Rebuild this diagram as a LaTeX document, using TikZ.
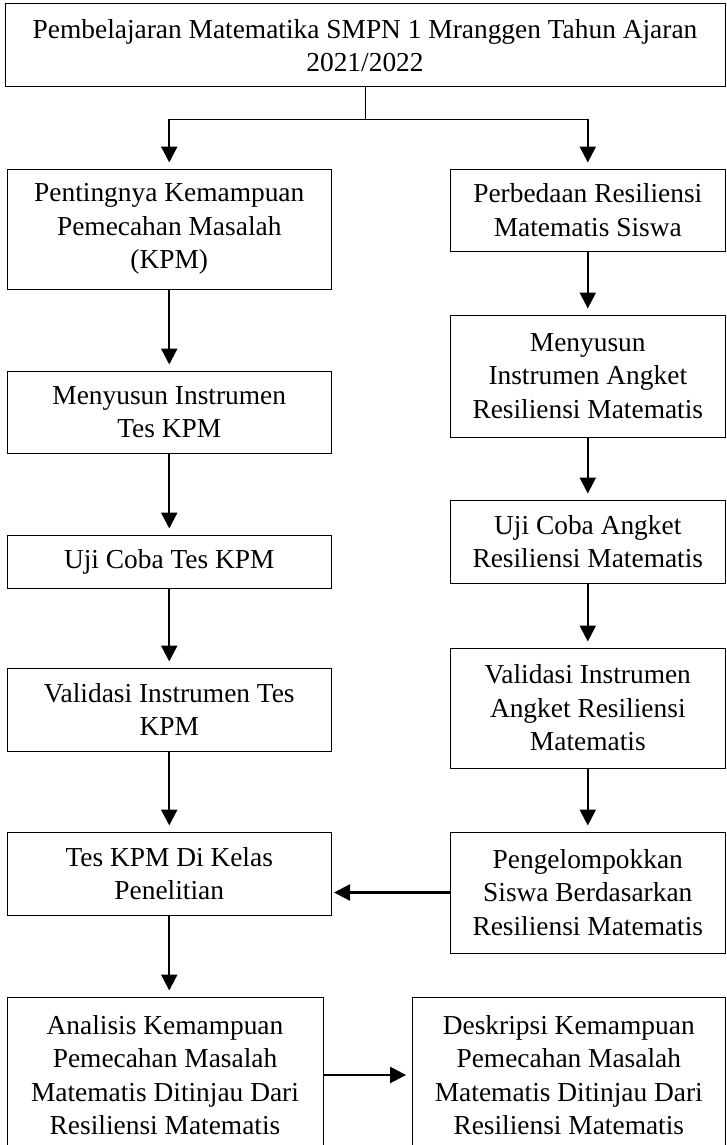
\documentclass[tikz,border=0pt]{standalone}
\usepackage{fontspec}
\setmainfont{Liberation Serif}
\usetikzlibrary{arrows.meta}

\tikzset{
  box/.style={draw, line width=0.5pt, align=center, inner sep=0pt,
    font=\fontsize{13.7}{16.7}\selectfont},
  leftbox/.style={box, minimum width=162.25pt},
  rightbox/.style={box, minimum width=137.2pt},
  flow/.style={-{Triangle[length=8pt,width=8pt]}, line width=1.2pt, shorten >=3pt},
}

\begin{document}
\begin{tikzpicture}[x=0.5pt,y=0.5pt]

	\useasboundingbox (0,0) rectangle (727,-1145);

	% top
	\node[box, minimum width=360pt, minimum height=41.5pt] (top) at (365,-45.5)
		{Pembelajaran Matematika SMPN 1 Mranggen Tahun Ajaran\\2021/2022};

	% left column
	\node[leftbox, minimum height=60pt] (kpm) at (169.25,-229)
		{Pentingnya Kemampuan\\Pemecahan Masalah\\(KPM)};
	\node[leftbox, minimum height=41pt] (instkpm) at (169.25,-412)
		{Menyusun Instrumen\\Tes KPM};
	\node[leftbox, minimum height=26.5pt] (ujikpm) at (169.25,-561.5)
		{Uji Coba Tes KPM};
	\node[leftbox, minimum height=41.5pt] (validkpm) at (169.25,-709.5)
		{Validasi Instrumen Tes\\KPM};
	\node[leftbox, minimum height=41.5pt] (teskpm) at (169.25,-873.5)
		{Tes KPM Di Kelas\\Penelitian};
	\node[box, minimum width=158pt, minimum height=78pt] (analisis) at (165,-1075)
		{Analisis Kemampuan\\Pemecahan Masalah\\Matematis Ditinjau Dari\\Resiliensi Matematis};

	% right column
	\node[rightbox, minimum height=41pt] (beda) at (587.8,-210)
		{Perbedaan Resiliensi\\Matematis Siswa};
	\node[rightbox, minimum height=61pt] (instangket) at (587.8,-376)
		{Menyusun\\Instrumen Angket\\Resiliensi Matematis};
	\node[rightbox, minimum height=41.5pt] (ujiangket) at (587.8,-541.5)
		{Uji Coba Angket\\Resiliensi Matematis};
	\node[rightbox, minimum height=60pt] (validangket) at (587.8,-708)
		{Validasi Instrumen\\Angket Resiliensi\\Matematis};
	\node[rightbox, minimum height=60.5pt] (kelompok) at (587.8,-892.5)
		{Pengelompokkan\\Siswa Berdasarkan\\Resiliensi Matematis};
	\node[box, minimum width=156.2pt, minimum height=78pt] (deskripsi) at (568.8,-1075)
		{Deskripsi Kemampuan\\Pemecahan Masalah\\Matematis Ditinjau Dari\\Resiliensi Matematis};

	% split
	\coordinate (split) at ([yshift=-16pt]top.south);
	\draw[line width=0.5pt] (top.south) -- (split);
	\draw[line width=0.5pt] (split -| kpm.north) -- (split -| beda.north);
	\draw[flow] (split -| kpm.north) -- (kpm.north);
	\draw[flow] (split -| beda.north) -- (beda.north);

	\draw[flow] (kpm) -- (instkpm);
	\draw[flow] (instkpm) -- (ujikpm);
	\draw[flow] (ujikpm) -- (validkpm);
	\draw[flow] (validkpm) -- (teskpm);
	\draw[flow] (teskpm.south) -- (teskpm.south |- analisis.north);

	\draw[flow] (beda) -- (instangket);
	\draw[flow] (instangket) -- (ujiangket);
	\draw[flow] (ujiangket) -- (validangket);
	\draw[flow] (validangket) -- (kelompok);

	\draw[flow, shorten >=1pt] (kelompok.west) -- (kelompok.west -| teskpm.east);
	\draw[flow] (analisis) -- (deskripsi);

\end{tikzpicture}
\end{document}
